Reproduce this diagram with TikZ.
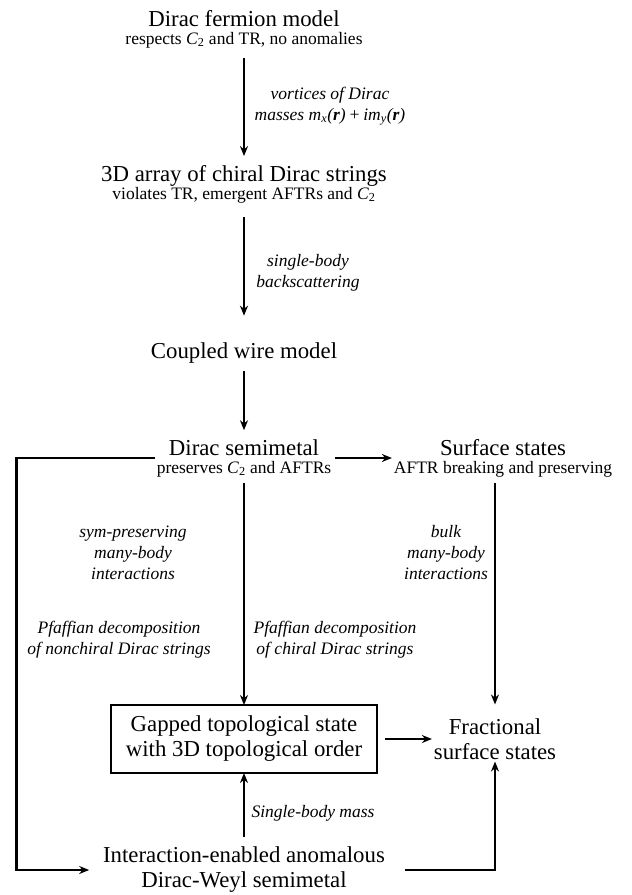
\documentclass[tikz,border=0pt]{standalone}
\usepackage{fontspec}
\setmainfont{Liberation Serif}
\usetikzlibrary{arrows.meta}
\newcommand{\mainsz}{\fontsize{22.8}{25}\selectfont}
\newcommand{\subsz}{\fontsize{17.5}{20}\selectfont}
\newcommand{\lblsz}{\fontsize{17.5}{21}\selectfont\itshape}
\newcommand{\Ctwo}{\textit{C}\textsubscript{2}}

\begin{document}
\begin{tikzpicture}[x=1pt,y=-1pt,>={Stealth[length=10pt,width=8pt]},font=\mainsz]
  \tikzset{state/.style={align=center,inner sep=0pt,outer sep=2pt},
           lbl/.style={align=center,inner sep=0pt,font=\lblsz},
           flow/.style={->,line width=2.7pt}}
  \useasboundingbox (0,0) rectangle (632,895);
  % main column
  \node[state] (fermion) at (244,29) {Dirac fermion model\\[-7pt]{\subsz respects \Ctwo{} and TR, no anomalies}};
  \node[state] (array) at (244,184) {3D array of chiral Dirac strings\\[-7pt]{\subsz violates TR, emergent AFTRs and \Ctwo}};
  \node[state] (coupled) at (244,353) {Coupled wire model};
  \node[state] (dsm) at (244,458) {Dirac semimetal\\[-7pt]{\subsz preserves \Ctwo{} and AFTRs}};
  \node[state] (surface) at (503,458) {Surface states\\[-7pt]{\subsz AFTR breaking and preserving}};
  \node[state,draw,line width=2pt,minimum width=266pt,minimum height=68pt,outer sep=0pt] (gapped) at (244,739) {Gapped topological state\\with 3D topological order};
  \node[state] (frac) at (495,739) {Fractional\\surface states};
  \node[state] (interaction) at (244,870) {Interaction-enabled anomalous\\Dirac-Weyl semimetal};
  % labels
  \node[lbl] (lblvortex) at (330,106) {vortices of Dirac\\masses \textit{m}\textsubscript{\itshape x}(\textbf{r})\,+\,\textit{im}\textsubscript{\itshape y}(\textbf{r})};
  \node[lbl] (lblback) at (308,273) {single-body\\backscattering};
  \node[lbl] (lblsym) at (133,553) {sym-preserving\\many-body\\interactions};
  \node[lbl] (lblbulk) at (446,553) {bulk\\many-body\\interactions};
  \node[lbl] (lblpfnon) at (119,640) {Pfaffian decomposition\\of nonchiral Dirac strings};
  \node[lbl] (lblpfchi) at (335,640) {Pfaffian decomposition\\of chiral Dirac strings};
  \node[lbl] (lblmass) at (313,813) {Single-body mass};
  % connectors
  \draw[flow,shorten <=8pt,shorten >=7pt] (fermion) -- (array);
  \draw[flow,shorten <=12pt,shorten >=25pt] (array) -- (coupled);
  \draw[flow,shorten <=6pt,shorten >=7pt] (coupled) -- (dsm);
  \draw[flow,shorten <=2pt] (dsm) -- (surface);
  \draw[flow,shorten <=4pt] (dsm) -- (gapped);
  \draw[flow,shorten <=4pt,shorten >=12pt] (surface.south -| frac) -- (frac);
  \draw[flow,shorten <=8pt] (gapped) -- (frac);
  \draw[flow,shorten <=8pt] (interaction) -- (gapped);
  \draw[flow,shorten >=12pt] (dsm.west) -- ++(-138,0) |- (interaction.west);
  \draw[flow,shorten <=18pt] (interaction.east) -| (frac);
\end{tikzpicture}
\end{document}
